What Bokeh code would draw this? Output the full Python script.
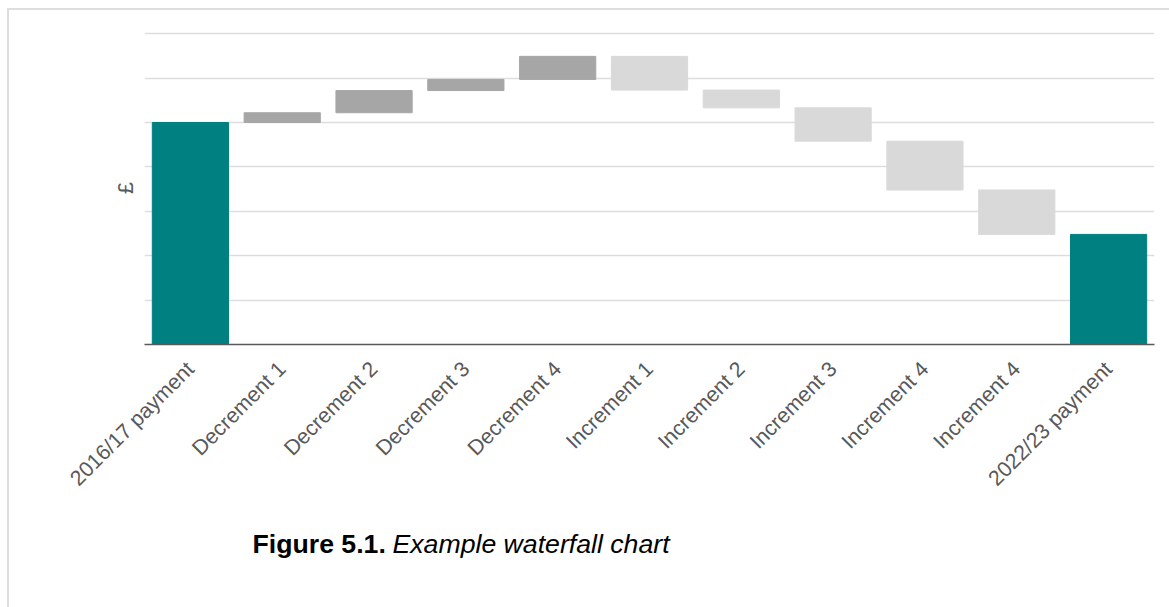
import math
from bokeh.plotting import figure
from bokeh.layouts import column
from bokeh.models import ColumnDataSource, FixedTicker, Range1d
from bokeh.core.properties import value
from bokeh.embed import file_html
from bokeh.resources import INLINE

# ---- data ----
categories = ["2016/17 payment", "Decrement 1", "Decrement 2", "Decrement 3", "Decrement 4",
              "Increment 1", "Increment 2", "Increment 3", "Increment 4", "Increment 4",
              "2022/23 payment"]
start_value = 5.0
changes = [0.22, 0.50, 0.25, 0.52, -0.76, -0.40, -0.75, -1.10, -1.00]
y_grid_ticks = [0, 1, 2, 3, 4, 5, 6, 7]
caption_bold = "Figure 5.1."
caption_italic = "Example waterfall chart"
y_label = "£"

TEAL = "#008080"
DARK = "#a6a6a6"
LIGHT = "#d9d9d9"
FONT = "Liberation Sans"

# build waterfall geometry from the data
xs, bottoms, tops, colors = [], [], [], []
xs.append(0); bottoms.append(0.0); tops.append(start_value); colors.append(TEAL)
level = start_value
for i, c in enumerate(changes):
    new = level + c
    xs.append(i + 1)
    bottoms.append(min(level, new))
    tops.append(max(level, new))
    colors.append(DARK if c > 0 else LIGHT)
    level = new
xs.append(len(categories) - 1); bottoms.append(0.0); tops.append(level); colors.append(TEAL)

src = ColumnDataSource(dict(x=xs, bottom=bottoms, top=tops, color=colors))

p = figure(width=1160, height=494, output_backend="svg", toolbar_location=None,
           x_range=Range1d(-0.5, len(categories) - 0.5), y_range=Range1d(0, 7.05),
           min_border_left=135, min_border_right=15, min_border_top=21, min_border_bottom=160)
p.outline_line_color = None
p.background_fill_color = "white"
p.border_fill_color = "white"

p.vbar(x="x", bottom="bottom", top="top", width=0.83, color="color", source=src)

# grid
p.xgrid.grid_line_color = None
p.ygrid.ticker = FixedTicker(ticks=y_grid_ticks)
p.ygrid.grid_line_color = "#dddddd"
p.ygrid.grid_line_width = 1.5

# x axis
p.xaxis.ticker = FixedTicker(ticks=list(range(len(categories))))
p.xaxis.major_label_overrides = {i: c for i, c in enumerate(categories)}
p.xaxis.major_label_orientation = math.pi / 4
p.xaxis.major_label_text_font = FONT
p.xaxis.major_label_text_font_size = "16pt"
p.xaxis.major_label_text_color = "#595959"
p.xaxis.major_tick_line_color = None
p.xaxis.minor_tick_line_color = None
p.xaxis.major_tick_out = 0
p.xaxis.major_label_standoff = 21
p.xaxis.axis_line_color = "#595959"
p.xaxis.axis_line_width = 1.5

# y axis: label only
p.yaxis.ticker = FixedTicker(ticks=[])
p.yaxis.major_tick_line_color = None
p.yaxis.minor_tick_line_color = None
p.yaxis.major_tick_out = 0
p.yaxis.major_label_standoff = 0
p.yaxis.axis_line_color = None
p.yaxis.axis_label = y_label
p.yaxis.axis_label_text_font = FONT
p.yaxis.axis_label_text_font_size = "16pt"
p.yaxis.axis_label_text_font_style = "normal"
p.yaxis.axis_label_text_color = "#595959"
p.yaxis.axis_label_standoff = 7

# caption strip (ranges expressed in page pixels)
c = figure(width=1160, height=103, output_backend="svg", toolbar_location=None,
           x_range=Range1d(144, 1154), y_range=Range1d(607, 504),
           x_axis_type=None, y_axis_type=None,
           min_border_left=135, min_border_right=15, min_border_top=0, min_border_bottom=0)
c.outline_line_color = None
c.xgrid.grid_line_color = None
c.ygrid.grid_line_color = None
c.text(x=[252], y=[543], text=[caption_bold], text_font=value(FONT),
       text_font_style=value("bold"), text_font_size=value("20pt"),
       text_color="#000000", text_baseline=value("alphabetic"))
c.text(x=[392], y=[543], text=[caption_italic], text_font=value(FONT),
       text_font_style=value("italic"), text_font_size=value("20pt"),
       text_color="#000000", text_baseline=value("alphabetic"))

layout = column(p, c, spacing=0,
                styles={"border-top": "2px solid #dddddd", "border-left": "2px solid #dddddd",
                        "margin-left": "7px", "margin-top": "8px"})

open("out.html", "w").write(file_html(layout, INLINE))
